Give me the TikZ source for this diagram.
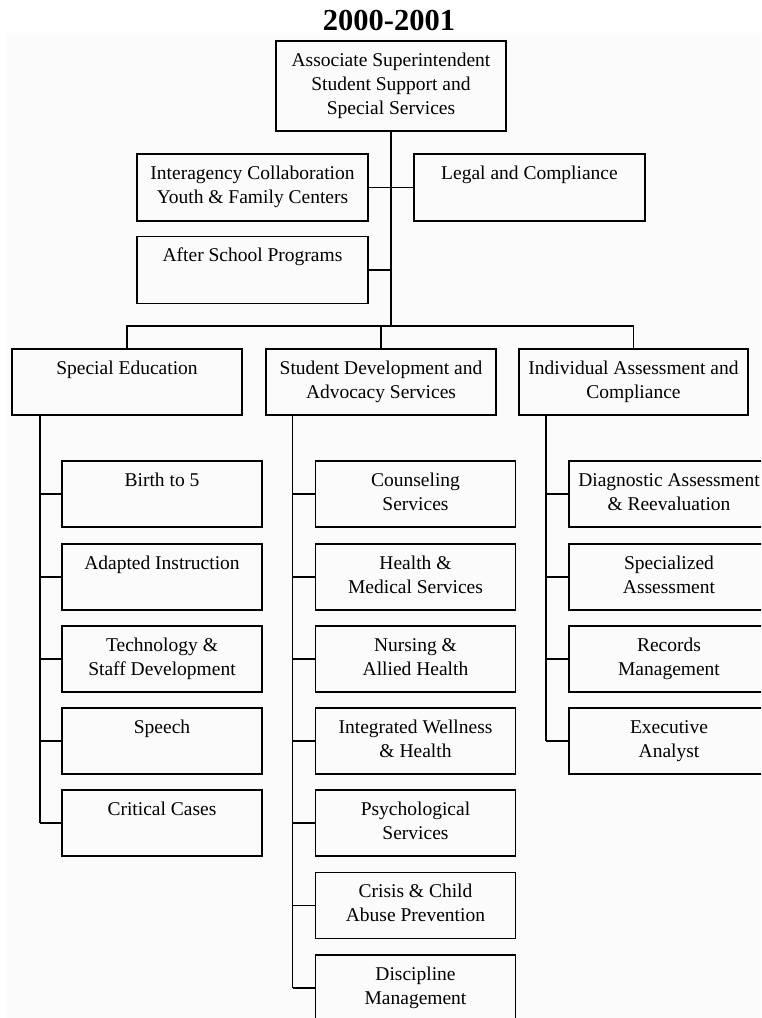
\documentclass[tikz,border=0pt]{standalone}
\usepackage{fontspec}
\setmainfont{Liberation Serif}
\usetikzlibrary{calc}
% box contents: width, height, top-aligned centred lines
\newcommand{\orgtext}[3]{\parbox[c][#2][t]{#1}{\centering\rule{0pt}{25pt}#3\par}}
\tikzset{
  unit/.style={draw, line width=1.6pt, inner sep=0pt, outer sep=0pt,
               font=\fontsize{19.5}{24}\selectfont},
  link/.style={line width=1.6pt},
}
\begin{document}
\begin{tikzpicture}[x=1pt,y=-1pt]
\useasboundingbox (0,0) rectangle (761,1018);
\clip (0,0) rectangle (761,1018);
\fill[black!1.5] (7,33) rectangle (761,1018);

\node[anchor=base, font=\bfseries\fontsize{30.5}{32}\selectfont] (title) at (389,30) {2000-2001};

% head of the division
\node[unit] (top) at (391,86) {\orgtext{230pt}{90pt}{Associate Superintendent\\Student Support and\\Special Services}};

% staff offices
\node[unit] (ic) at (252.5,187.5) {\orgtext{231pt}{67pt}{Interagency Collaboration\\Youth \& Family Centers}};
\node[unit] (lc) at (529.5,187.5) {\orgtext{231pt}{67pt}{Legal and Compliance}};
\node[unit] (as) at (252.5,270) {\orgtext{231pt}{67pt}{After School Programs}};

% departments
\node[unit] (se) at (127,382) {\orgtext{230pt}{66pt}{Special Education}};
\node[unit] (sd) at (381,382) {\orgtext{230pt}{66pt}{Student Development and\\Advocacy Services}};
\node[unit] (ia) at (633.5,382) {\orgtext{229pt}{66pt}{Individual Assessment and\\Compliance}};

% Special Education units
\node[unit] (se1) at (162,494) {\orgtext{200pt}{66pt}{Birth to 5}};
\node[unit] (se2) at (162,577) {\orgtext{200pt}{66pt}{Adapted Instruction}};
\node[unit] (se3) at (162,659) {\orgtext{200pt}{66pt}{Technology \&\\Staff Development}};
\node[unit] (se4) at (162,741) {\orgtext{200pt}{66pt}{Speech}};
\node[unit] (se5) at (162,823) {\orgtext{200pt}{66pt}{Critical Cases}};

% Student Development units
\node[unit] (sd1) at (415.5,494) {\orgtext{200pt}{66pt}{Counseling\\Services}};
\node[unit] (sd2) at (415.5,577) {\orgtext{200pt}{66pt}{Health \&\\Medical Services}};
\node[unit] (sd3) at (415.5,659) {\orgtext{200pt}{66pt}{Nursing \&\\Allied Health}};
\node[unit] (sd4) at (415.5,741) {\orgtext{200pt}{66pt}{Integrated Wellness\\\& Health}};
\node[unit] (sd5) at (415.5,823) {\orgtext{200pt}{66pt}{Psychological\\Services}};
\node[unit] (sd6) at (415.5,905.5) {\orgtext{200pt}{66pt}{Crisis \& Child\\Abuse Prevention}};
\node[unit] (sd7) at (415.5,988) {\orgtext{200pt}{66pt}{Discipline\\Management}};

% Individual Assessment units
\node[unit] (ia1) at (669,494) {\orgtext{200pt}{66pt}{Diagnostic Assessment\\\& Reevaluation}};
\node[unit] (ia2) at (669,577) {\orgtext{200pt}{66pt}{Specialized\\Assessment}};
\node[unit] (ia3) at (669,659) {\orgtext{200pt}{66pt}{Records\\Management}};
\node[unit] (ia4) at (669,741) {\orgtext{200pt}{66pt}{Executive\\Analyst}};

% trunk and bus
\coordinate (bus) at (0,326);
\draw[link] (top.south) -- (top.south |- bus);
\draw[link] (ic.east) -- (lc.west);
\draw[link] (as.east) -- (as.east -| top.south);
\draw[link] (se.north) -- (se.north |- bus) -- (ia.north |- bus) -- (ia.north);
\draw[link] (sd.north) -- (sd.north |- bus);

% department spines
\coordinate (seS) at ($(se.south west)+(28,0)$);
\coordinate (sdS) at ($(sd.south west)+(26.5,0)$);
\coordinate (iaS) at ($(ia.south west)+(27,0)$);
\draw[link] (seS) -- (seS |- se5.west);
\draw[link] (sdS) -- (sdS |- sd7.west);
\draw[link] (iaS) -- (iaS |- ia4.west);
\foreach \n in {se1,se2,se3,se4,se5} \draw[link] (\n.west) -- (\n.west -| seS);
\foreach \n in {sd1,sd2,sd3,sd4,sd5,sd6,sd7} \draw[link] (\n.west) -- (\n.west -| sdS);
\foreach \n in {ia1,ia2,ia3,ia4} \draw[link] (\n.west) -- (\n.west -| iaS);
\end{tikzpicture}
\end{document}
